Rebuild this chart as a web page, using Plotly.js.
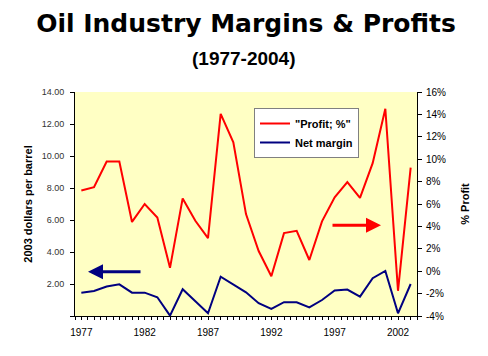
<!DOCTYPE html>
<html>
<head>
<meta charset="utf-8">
<script src="https://cdn.plot.ly/plotly-3.0.1.min.js"></script>
<style>html,body{margin:0;padding:0;background:#fff;}#chart{width:488px;height:356px;}</style>
</head>
<body>
<div id="chart"></div>
<script>
const years = [1977,1978,1979,1980,1981,1982,1983,1984,1985,1986,1987,1988,1989,1990,1991,1992,1993,1994,1995,1996,1997,1998,1999,2000,2001,2002,2003];
const profitPct = [7.2,7.5,9.8,9.8,4.4,6.0,4.8,0.3,6.5,4.5,2.95,14.05,11.5,5.1,1.8,-0.45,3.4,3.6,1.0,4.45,6.6,7.95,6.55,9.65,14.5,-1.75,9.25];
const netMargin = [1.46,1.56,1.84,1.98,1.46,1.46,1.17,0.02,1.67,0.94,0.17,2.46,1.98,1.48,0.8,0.44,0.86,0.86,0.54,1.0,1.59,1.65,1.21,2.36,2.82,0.17,2.0];
const xLabelYears = [1977,1982,1987,1992,1997,2002];
const leftTicks = [0,2,4,6,8,10,12,14];
const rightTicks = [-4,-2,0,2,4,6,8,10,12,14,16];

const xTickVals = [];
const xTickText = [];
for (let v = 1976.5; v <= 2003.5001; v += 0.5) {
  xTickVals.push(v);
  xTickText.push(xLabelYears.includes(v) ? String(v) : '');
}
const leftText = leftTicks.map(v => v === 0 ? '' : v.toFixed(2));
const rightText = rightTicks.map(v => v + '%');

const FONT = 'Liberation Sans, Arial, sans-serif';

const traces = [
  {x: years, y: profitPct, name: '<b>"Profit; %"</b>', type: 'scatter', mode: 'lines',
   line: {color: '#FF0000', width: 2}, yaxis: 'y2'},
  {x: years, y: netMargin, name: '<b>Net margin</b>', type: 'scatter', mode: 'lines',
   line: {color: '#000080', width: 2}, yaxis: 'y'}
];

const layout = {
  width: 488, height: 356,
  margin: {l: 75, r: 71, t: 92, b: 40},
  paper_bgcolor: '#ffffff',
  plot_bgcolor: '#FFFFC4',
  font: {family: FONT, color: '#000'},
  showlegend: true,
  legend: {x: (254 - 75) / 342, y: (316 - 108) / 224, xanchor: 'left', yanchor: 'top',
           bgcolor: '#ffffff', bordercolor: '#808080', borderwidth: 1,
           font: {size: 11, family: FONT, color: '#000'},
           tracegroupgap: 0, itemwidth: 30},
  xaxis: {range: [1976.5, 2003.5], tickmode: 'array', tickvals: xTickVals, ticktext: xTickText,
          ticks: 'outside', ticklen: 3, tickcolor: '#000', showline: true, linecolor: '#000',
          linewidth: 1, showgrid: false, zeroline: false, ticklabelstandoff: 4,
          tickfont: {size: 10, color: '#000'}},
  yaxis: {range: [0, 14], tickmode: 'array', tickvals: leftTicks, ticktext: leftText,
          ticks: 'outside', ticklen: 4, tickcolor: '#000', showline: true, linecolor: '#000',
          showgrid: false, zeroline: false, ticklabelstandoff: 4, tickfont: {size: 9, color: '#333'},
          title: {text: '<b>2003 dollars per barrel</b>', font: {size: 11, color: '#000'}, standoff: 6}},
  yaxis2: {range: [-4, 16], overlaying: 'y', side: 'right', tickmode: 'array', tickvals: rightTicks,
           ticktext: rightText, ticks: 'outside', ticklen: 4, tickcolor: '#000', showline: true,
           linecolor: '#000', showgrid: false, zeroline: false, ticklabelstandoff: 2,
           tickfont: {size: 10, color: '#000'},
           title: {text: '<b>% Profit</b>', font: {size: 11, color: '#000'}, standoff: 16}},
  title: {text: '<b>Oil Industry Margins & Profits</b>',
          font: {size: 25, family: 'DejaVu Sans, Liberation Sans, sans-serif', color: '#000'},
          x: 0.5, xref: 'paper', xanchor: 'center', yref: 'container', y: 1 - 23/356, yanchor: 'middle'},
  annotations: [
    {text: '<b>(1977-2004)</b>', xref: 'paper', yref: 'paper', x: (244 - 75) / 342, y: (316 - 58) / 224,
     xanchor: 'center', yanchor: 'middle', showarrow: false, font: {size: 19, family: FONT, color: '#000'}},
    {text: '', xref: 'paper', yref: 'paper', x: (88 - 75) / 342, y: (316 - 271.7) / 224,
     ax: 54, ay: 0, showarrow: true, arrowhead: 2, arrowsize: 1, arrowwidth: 3, arrowcolor: '#000080'},
    {text: '', xref: 'paper', yref: 'paper', x: (381 - 75) / 342, y: (316 - 225.3) / 224,
     ax: -50, ay: 0, showarrow: true, arrowhead: 2, arrowsize: 1, arrowwidth: 3, arrowcolor: '#FF0000'}
  ]
};

Plotly.newPlot('chart', traces, layout, {displayModeBar: false, staticPlot: true});
</script>
</body>
</html>
